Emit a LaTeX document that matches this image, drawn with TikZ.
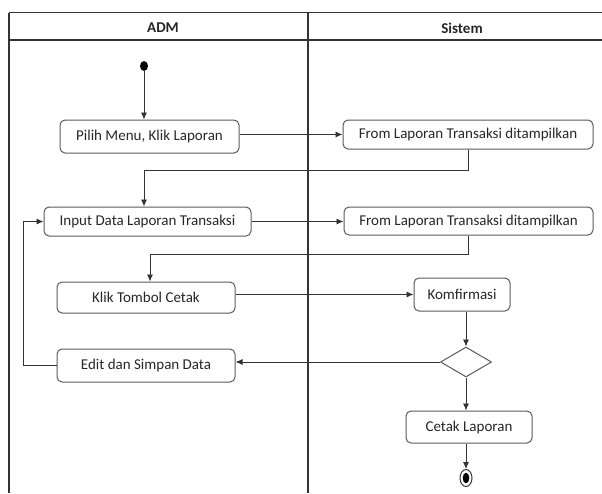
\documentclass[tikz,border=0pt]{standalone}
\usepackage{fontspec}
\setmainfont{Carlito}
\usetikzlibrary{arrows.meta,shapes.geometric}
\begin{document}
\begin{tikzpicture}[x=1pt,y=-1pt,
  frameline/.style={draw=black!80,line width=1.3pt},
  actbox/.style={draw=black!65,line width=1pt,rounded corners=5pt,rectangle,inner sep=0pt,
    font=\fontsize{15}{18}\selectfont,text=black!85},
  hdr/.style={font=\fontsize{15}{18}\selectfont\bfseries,text=black!85},
  arr/.style={draw=black!80,line width=0.9pt,-{Latex[length=7pt,width=6pt]}},
  decbox/.style={diamond,draw=black!65,line width=1pt,inner sep=0pt,aspect=1.7},
]
\useasboundingbox (0,0) rectangle (602,493);
% swimlane frame
\draw[frameline] (9,12.5) -- (602,12.5);
\draw[frameline] (9,40) -- (602,40);
\draw[frameline] (9,12.5) -- (9,493);
\draw[frameline] (308,12.5) -- (308,493);
\node[hdr] (hA) at (163,28) {ADM};
\node[hdr] (hS) at (462,28) {Sistem};
% nodes
\node[ellipse,fill=black,minimum width=8pt,minimum height=10pt,inner sep=0pt] (start) at (144,66) {};
\node[actbox,minimum width=179pt,minimum height=33pt] (pilih) at (149.5,136.5) {Pilih Menu, Klik Laporan};
\node[actbox,minimum width=250pt,minimum height=29pt] (from1) at (468,134.5) {From Laporan Transaksi ditampilkan};
\node[actbox,minimum width=207pt,minimum height=29pt] (input) at (147.5,221.5) {Input Data Laporan Transaksi};
\node[actbox,minimum width=249pt,minimum height=28pt] (from2) at (468.5,221) {From Laporan Transaksi ditampilkan};
\node[actbox,minimum width=178pt,minimum height=31pt] (klik) at (146,297.5) {Klik Tombol Cetak};
\node[actbox,minimum width=96pt,minimum height=33pt] (komf) at (462,294.5) {Komfirmasi};
\node[decbox,minimum width=51pt,minimum height=30pt] (dec) at (466,362) {};
\node[actbox,minimum width=178pt,minimum height=33pt] (edit) at (146,365.5) {Edit dan Simpan Data};
\node[actbox,minimum width=126pt,minimum height=32pt] (cetak) at (469,427) {Cetak Laporan};
\node[ellipse,draw=black!80,line width=1pt,minimum width=12pt,minimum height=17pt,inner sep=0pt,
  path picture={\fill[black] (path picture bounding box.center) ellipse [x radius=3.3pt,y radius=5.3pt];}] (end) at (466,478) {};
% bend points
\coordinate (b1) at (144,170);
\coordinate (b2) at (150,254);
\coordinate (b3) at (23,300);
% connectors
\draw[arr] (start) -- (start |- pilih.north);
\draw[arr] (pilih.east |- from1) -- (from1.west);
\draw[arr] (from1.south) |- (b1) -- (b1 |- input.north);
\draw[arr] (input.east) -- (input.east -| from2.west);
\draw[arr] (from2.south) |- (b2) -- (b2 |- klik.north);
\draw[arr] (klik.east |- komf) -- (komf.west);
\draw[arr] (komf.south -| dec) -- (dec.north);
\draw[arr] (dec.west) -- (dec.west -| edit.east);
\draw[arr] (edit.west) -| (b3 |- input) -- (input.west);
\draw[arr] (dec.south) -- (cetak.north -| dec);
\draw[arr] (cetak.south -| end) -- (end.north);
\end{tikzpicture}
\end{document}
